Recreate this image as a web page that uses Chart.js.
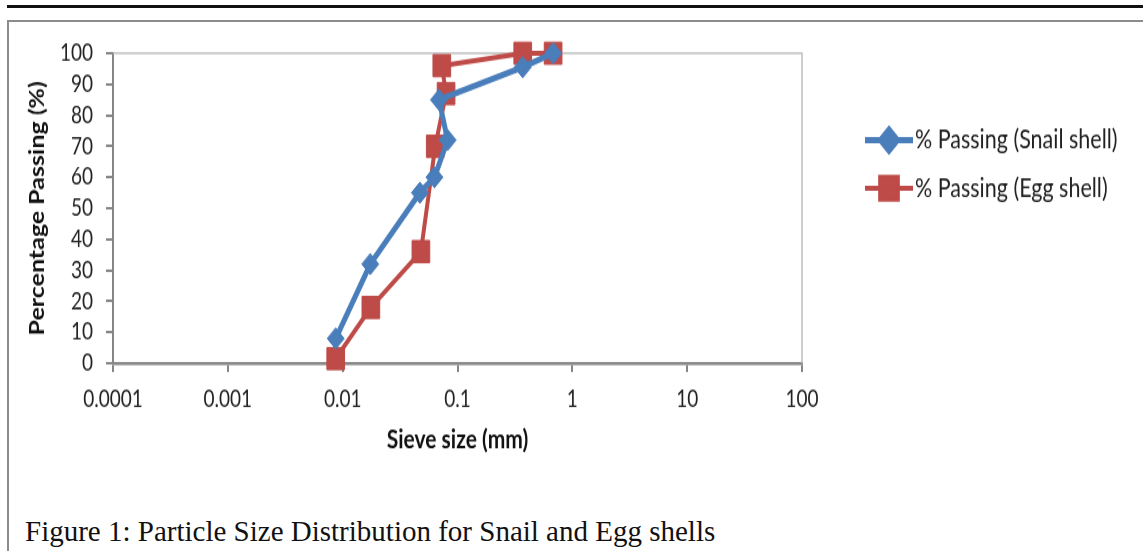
<!DOCTYPE html>
<html>
<head>
<meta charset="utf-8">
<script src="https://cdn.jsdelivr.net/npm/chart.js@4/dist/chart.umd.min.js"></script>
<style>
  body { margin: 0; background: #fff; }
  #page { position: relative; width: 1143px; height: 551px; background: #fff; overflow: hidden; }
  .rule { position: absolute; left: 7px; top: 5px; width: 1136px; height: 3px; background: #111; }
  .frame-top { position: absolute; left: 7px; top: 20px; width: 1136px; height: 2px; background: #8c8c8c; }
  .frame-left { position: absolute; left: 7px; top: 20px; width: 2px; height: 531px; background: #8c8c8c; }
  /* the chart picture in the reference is stretched vertically */
  #wrap { position: absolute; left: 9px; top: 22px; width: 1134px; height: 360px;
          transform: scaleY(1.25); transform-origin: 0 0; }
  .caption { position: absolute; left: 25px; top: 517px; line-height: 29px;
             font-family: "Liberation Serif", "Times New Roman", serif; font-size: 29px; color: #111;
             white-space: nowrap; }
</style>
</head>
<body>
<div id="page">
  <div class="rule"></div>
  <div class="frame-top"></div>
  <div class="frame-left"></div>
  <div id="wrap"><canvas id="psdChart"></canvas></div>
  <div class="caption">Figure 1: Particle Size Distribution for Snail and Egg shells</div>
</div>
<script>
// values
const snailSize = [0.0087, 0.0174, 0.047, 0.063, 0.082, 0.069, 0.37, 0.68];
const snailPassing = [8, 32, 55, 60, 72, 85, 95.5, 100];
const eggSize = [0.0087, 0.0176, 0.048, 0.064, 0.0795, 0.073, 0.37, 0.68];
const eggPassing = [1.5, 18, 36, 70, 87, 96, 100, 100];

const seriesNames = ['% Passing (Snail shell)', '% Passing (Egg shell)'];
const xTicks = [0.0001, 0.001, 0.01, 0.1, 1, 10, 100];
const xTickLabels = ['0.0001', '0.001', '0.01', '0.1', '1', '10', '100'];

const FONT = 'Lato, sans-serif';
const AXIS_GRAY = '#868686';

function toPoints(xs, ys) {
  return xs.map((x, i) => ({ x: x, y: ys[i] }));
}

// light border on top and right of the plot area
const plotFrame = {
  id: 'plotFrame',
  beforeDatasetsDraw(chart) {
    const { ctx, chartArea } = chart;
    ctx.save();
    ctx.strokeStyle = '#bfbfbf';
    ctx.lineWidth = 1.5;
    ctx.beginPath();
    ctx.moveTo(chartArea.left, chartArea.top);
    ctx.lineTo(chartArea.right, chartArea.top);
    ctx.lineTo(chartArea.right, chartArea.bottom);
    ctx.stroke();
    ctx.restore();
  }
};

// Excel style legend: short line with the marker in its middle
const lineLegend = {
  id: 'lineLegend',
  afterDraw(chart) {
    const ctx = chart.ctx;
    const rows = [94.5, 133];
    ctx.save();
    chart.data.datasets.forEach((ds, i) => {
      const y = rows[i];
      ctx.strokeStyle = ds.borderColor;
      ctx.lineWidth = ds.borderWidth;
      ctx.beginPath();
      ctx.moveTo(856, y);
      ctx.lineTo(904, y);
      ctx.stroke();
      Chart.helpers.drawPoint(ctx, {
        pointStyle: ds.pointStyle,
        radius: ds.pointRadius,
        borderWidth: 1,
        rotation: 0
      }, 880, y);
      ctx.fillStyle = ds.backgroundColor;
      ctx.strokeStyle = ds.borderColor;
      ctx.lineWidth = 1;
      ctx.fill();
      ctx.stroke();
      ctx.fillStyle = '#222';
      ctx.font = '21.5px ' + FONT;
      ctx.textBaseline = 'middle';
      ctx.textAlign = 'left';
      ctx.fillText(ds.label, 906, y);
    });
    ctx.restore();
  }
};

new Chart(document.getElementById('psdChart'), {
  type: 'line',
  data: {
    datasets: [{
      label: seriesNames[0],
      data: toPoints(snailSize, snailPassing),
      borderColor: '#4a7ebb',
      backgroundColor: '#4a7ebb',
      borderWidth: 5,
      pointStyle: 'rectRot',
      pointRadius: 8.5,
      pointBorderWidth: 1,
      tension: 0,
      clip: false
    }, {
      label: seriesNames[1],
      data: toPoints(eggSize, eggPassing),
      borderColor: '#be4b48',
      backgroundColor: '#be4b48',
      borderWidth: 4,
      pointStyle: 'rect',
      pointRadius: 12.5,
      pointBorderWidth: 1,
      tension: 0,
      clip: false
    }]
  },
  options: {
    responsive: true,
    maintainAspectRatio: false,
    animation: false,
    layout: { padding: { left: 13, top: 25, right: 341, bottom: 9 } },
    plugins: {
      legend: { display: false },
      tooltip: { enabled: false }
    },
    scales: {
      x: {
        type: 'logarithmic',
        min: 0.0001,
        max: 100,
        afterBuildTicks: (scale) => { scale.ticks = xTicks.map(v => ({ value: v })); },
        afterFit: (scale) => { scale.height = 78; },
        grid: { drawOnChartArea: false, color: AXIS_GRAY, lineWidth: 2, tickLength: 7 },
        border: { display: true, color: AXIS_GRAY, width: 2.5 },
        ticks: {
          autoSkip: false,
          maxRotation: 0,
          padding: 10,
          color: '#222',
          font: { family: FONT, size: 19 },
          callback: (value, index) => xTickLabels[index]
        },
        title: {
          display: true,
          text: 'Sieve size (mm)',
          color: '#111',
          font: { family: FONT, size: 21, weight: 'bold' }
        }
      },
      y: {
        min: 0,
        max: 100,
        afterFit: (scale) => { scale.width = 91; },
        grid: { drawOnChartArea: false, color: AXIS_GRAY, lineWidth: 2, tickLength: 7 },
        border: { display: true, color: AXIS_GRAY, width: 2 },
        ticks: {
          stepSize: 10,
          autoSkip: false,
          padding: 13,
          color: '#222',
          font: { family: FONT, size: 19 }
        },
        title: {
          display: true,
          text: 'Percentage Passing (%)',
          color: '#111',
          font: { family: FONT, size: 20, weight: 'bold' }
        }
      }
    }
  },
  plugins: [plotFrame, lineLegend]
});
</script>
</body>
</html>
